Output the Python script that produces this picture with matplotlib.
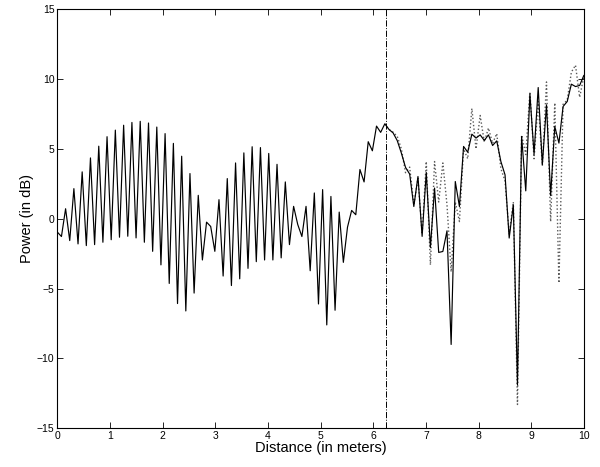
import matplotlib
matplotlib.use("Agg")
import matplotlib.pyplot as plt
import numpy as np

plt.rcParams['font.family'] = ['Liberation Sans', 'DejaVu Sans']

# measured power, 128 samples over 10 m
power = [-0.95, -1.27, 0.72, -1.56, 2.16, -1.8, 3.36, -1.92, 4.36, -1.85,
         5.2, -1.68, 5.88, -1.5, 6.35, -1.32, 6.7, -1.25, 6.9, -1.37,
         6.98, -1.68, 6.86, -2.33, 6.57, -3.3, 6.1, -4.63, 5.4, -6.07,
         4.48, -6.6, 3.24, -5.32, 1.68, -2.95, -0.24, -0.55, -2.33, 1.37,
         -4.1, 2.88, -4.78, 4.0, -4.3, 4.72, -3.55, 5.16, -3.07, 5.1,
         -2.95, 4.68, -2.95, 3.9, -2.8, 2.64, -1.85, 0.89, -0.41, -1.27,
         0.89, -3.72, 1.85, -6.1, 2.09, -7.6, 1.6, -6.55, 0.48, -3.12,
         -0.6, 0.6, 0.29, 3.53, 2.64, 5.52, 4.87, 6.64, 6.19, 6.8,
         6.4, 6.15, 5.6, 4.7, 3.68, 3.2, 0.88, 3.03, -1.26, 3.32,
         -2.05, 2.2, -2.41, -2.34, -0.86, -9.0, 2.67, 0.88, 5.18, 4.77,
         6.06, 5.78, 6.01, 5.61, 6.01, 5.25, 5.58, 4.1, 3.15, -1.38,
         1.0, -11.9, 5.9, 2.0, 8.93, 4.63, 9.4, 3.87, 8.16, 1.67,
         6.61, 5.42, 8.04, 8.4, 9.64, 9.47, 9.55, 10.26]
dist = np.linspace(0, 10, len(power))

# predicted power after the split point (samples 79..127)
pred_start = 79
pred = [6.8, 6.4, 6.2, 5.9, 5.0, 3.3, 3.7, 1.0, 2.9, -1.1,
        4.1, -3.3, 4.1, 1.2, 4.0, 1.0, -3.8, 1.2, -0.2, 5.0,
        4.3, 7.9, 5.0, 7.4, 5.5, 6.5, 5.4, 6.1, 3.6, 2.7,
        -1.1, 1.2, -13.3, 6.0, 4.6, 9.1, 4.3, 8.4, 3.8, 9.8,
        -0.2, 8.3, -4.6, 8.2, 8.5, 10.5, 11.0, 8.7, 10.2]
split_x = 6.25

fig = plt.figure(figsize=(6, 4.67), dpi=100)
ax = fig.add_axes([0.0955, 0.083, 0.8775, 0.897])

ax.plot(dist[pred_start:], pred, color='0.35', linestyle=(0, (1, 1.6)),
        linewidth=1.0)
ax.plot(dist, power, color='black', linewidth=0.85)
ax.axvline(split_x, color='black', linestyle='-.', linewidth=0.7)

ax.set_xlim(0, 10)
ax.set_ylim(-15, 15)
ax.set_xticks(range(0, 11))
ax.set_yticks(range(-15, 16, 5))
ax.tick_params(direction='in', top=True, right=True, labelsize=7.5,
               length=4, width=0.6, pad=2)
for s in ax.spines.values():
    s.set_linewidth(0.8)

ax.set_xlabel('Distance (in meters)', fontsize=10.5, labelpad=0)
ax.set_ylabel('Power (in dB)', fontsize=10.5, labelpad=2)

fig.savefig('out.png', dpi=100)
